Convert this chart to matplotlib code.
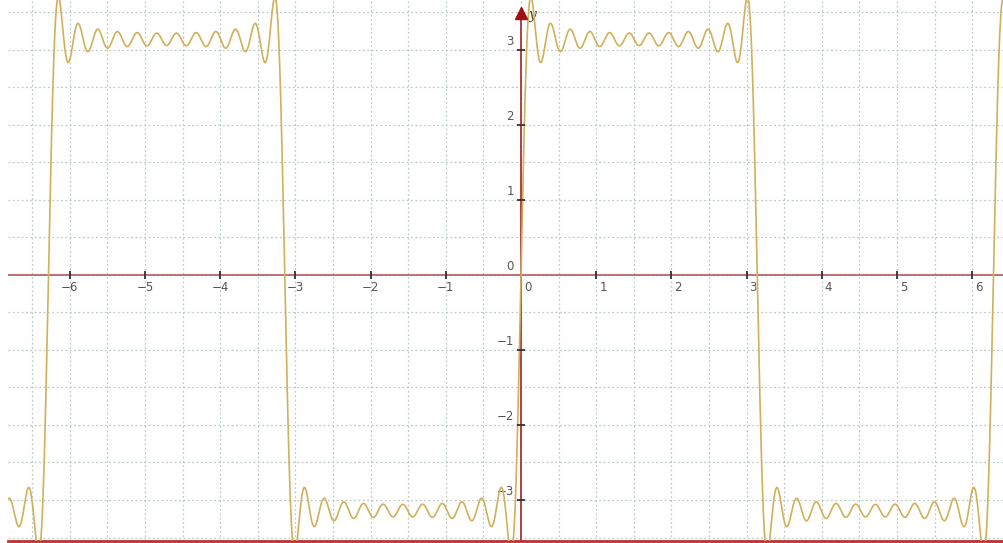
import numpy as np
import matplotlib
matplotlib.use("Agg")
import matplotlib.pyplot as plt

# Fourier partial sum of a square wave (amplitude pi):
harmonics = [1, 3, 5, 7, 9, 11, 13, 15, 17, 19, 21, 23]
coefficients = [4.0, 1.3333, 0.8, 0.5714, 0.4444, 0.3636, 0.3077, 0.2667,
                0.2353, 0.2105, 0.1905, 0.1739]
x_ticks = [-6, -5, -4, -3, -2, -1, 0, 1, 2, 3, 4, 5, 6]
y_ticks = [-3, -2, -1, 0, 1, 2, 3]

W, H = 1004, 543
fig = plt.figure(figsize=(W / 100, H / 100), dpi=100)
fig.patch.set_facecolor("white")
ax = fig.add_axes([8 / W, 2 / H, 996 / W, 541 / H])
x0, px = 521.0, 75.2
y0, py = 275.0, 75.0
xmin, xmax = (8 - x0) / px, (W - x0) / px
ymax, ymin = y0 / py, (y0 - 541) / py
ax.set_xlim(xmin, xmax)
ax.set_ylim(ymin, ymax)
for s in ["top", "left", "right"]:
    ax.spines[s].set_visible(False)
ax.spines["bottom"].set_color("#c03030")
ax.spines["bottom"].set_linewidth(2.0)
ax.set_xticks([])
ax.set_yticks([])

# grid every 0.5
gx = np.arange(-7, 7.01, 0.5)
gy = np.arange(-3.5, 3.51, 0.5)
for g in gx:
    ax.axvline(g, color="#bccbc6", lw=0.9, ls=(0, (1.5, 2)), zorder=1)
for g in gy:
    ax.axhline(g, color="#bccbc6", lw=0.9, ls=(0, (1.5, 2)), zorder=1)

# axes
arrow_y = ymax - 13 / py
ax.axhline(0, color="#b85a5a", lw=1.2, zorder=2)
ax.plot([0, 0], [ymin, arrow_y], color="#b04040", lw=1.4, zorder=2)
ax.plot([0], [arrow_y], marker="^", color="#a01010", ms=8, zorder=5,
        clip_on=False)
ax.annotate("y", (0, arrow_y), xytext=(8, -2), textcoords="offset pixels",
            fontsize=10, fontstyle="italic", family="DejaVu Serif",
            color="#444444", ha="left", va="center")

# tick marks
ax.plot([t for t in x_ticks if t != 0], [0] * (len(x_ticks) - 1), ls="none",
        marker="|", ms=6, mew=1.3, color="#333333", zorder=4)
ax.plot([0] * (len(y_ticks) - 1), [t for t in y_ticks if t != 0], ls="none",
        marker="_", ms=6, mew=1.3, color="#333333", zorder=4)

for t in x_ticks:
    lab = str(t).replace("-", "\u2212")
    if t < 0:
        ax.annotate(lab, (t, 0), xytext=(0, -13), textcoords="offset pixels",
                    ha="center", va="center", fontsize=8.5, color="#555555")
    else:
        ax.annotate(lab, (t, 0), xytext=(3, -13), textcoords="offset pixels",
                    ha="left", va="center", fontsize=8.5, color="#555555")
for t in y_ticks:
    lab = str(t).replace("-", "\u2212")
    ax.annotate(lab, (0, t), xytext=(-7, 8), textcoords="offset pixels",
                ha="right", va="center", fontsize=8.5, color="#555555")

# curve
x = np.linspace(xmin, xmax, 6000)
y = np.zeros_like(x)
for n, b in zip(harmonics, coefficients):
    y += b * np.sin(n * x)
ax.plot(x, y, color="#d0b05a", lw=1.2, zorder=3)

fig.savefig("out.png", dpi=100)
